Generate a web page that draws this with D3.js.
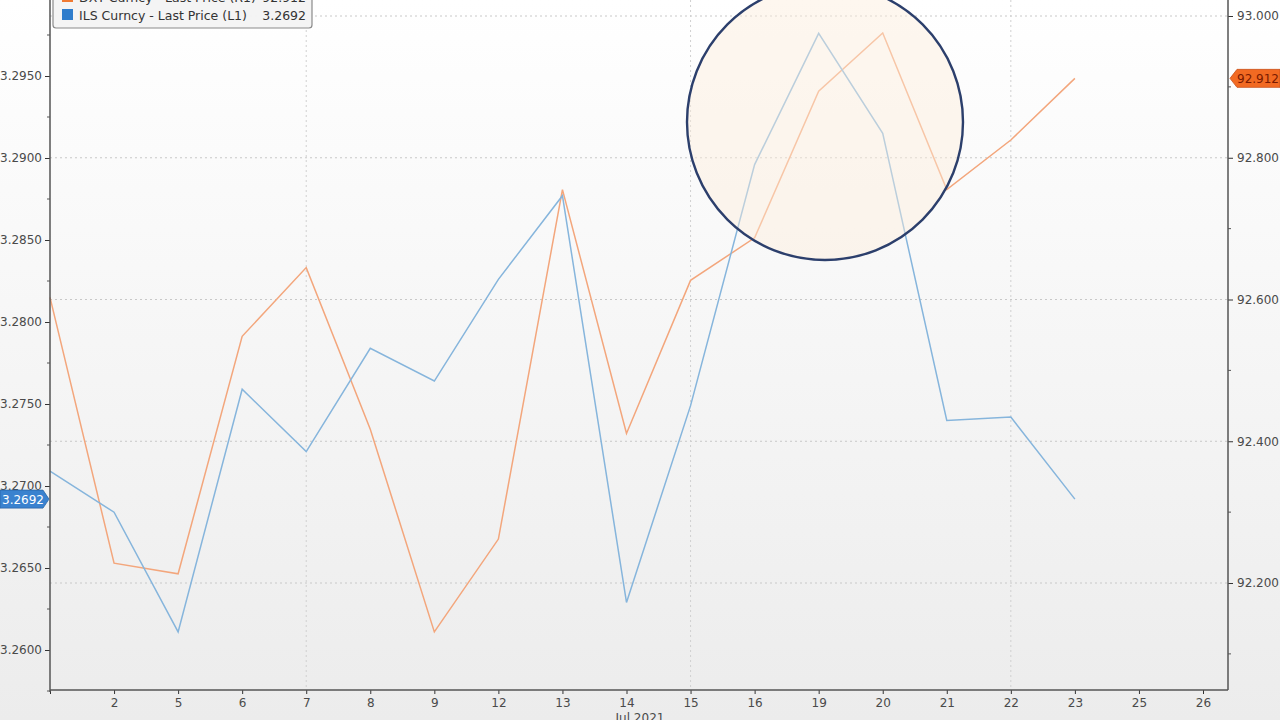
<!DOCTYPE html>
<html>
<head>
<meta charset="utf-8">
<script src="https://cdn.jsdelivr.net/npm/d3@7"></script>
<style>
  html, body { margin: 0; padding: 0; background: #fff; }
  svg { display: block; }
  text { font-family: "DejaVu Sans", Verdana, sans-serif; }
</style>
</head>
<body>
<svg id="chart" width="1280" height="720"></svg>
<script>
// ---- data ----
const days = ["1","2","5","6","7","8","9","12","13","14","15","16","19","20","21","22","23","25","26"];
const dataDays = ["1","2","5","6","7","8","9","12","13","14","15","16","19","20","21","22","23"];
const ilsValues = [3.2709, 3.2684, 3.2611, 3.2759, 3.2721, 3.2784, 3.2764, 3.2826, 3.2877, 3.2629, 3.2749, 3.2896, 3.2976, 3.2915, 3.2740, 3.2742, 3.2692];
const dxyValues = [92.603, 92.228, 92.213, 92.548, 92.645, 92.417, 92.131, 92.262, 92.755, 92.411, 92.627, 92.687, 92.894, 92.976, 92.755, 92.825, 92.912];
const leftTicks = [3.2600, 3.2650, 3.2700, 3.2750, 3.2800, 3.2850, 3.2900, 3.2950];
const rightTicks = [92.200, 92.400, 92.600, 92.800, 93.000];
const gridDays = ["7", "15", "22"];
const legendItems = [
  { name: "DXY Curncy - Last Price (R1)", value: "92.912", color: "#f07a32" },
  { name: "ILS Curncy - Last Price (L1)", value: "3.2692", color: "#2f7dcc" }
];
const monthLabel = "Jul 2021";
const lastILS = "3.2692";
const lastDXY = "92.912";

// ---- layout ----
const W = 1280, H = 720;
const pLeft = 50, pRight = 1228, pTop = 0, pBottom = 690;

const svg = d3.select("#chart");
const defs = svg.append("defs");
const grad = defs.append("linearGradient").attr("id", "bg").attr("x1", 0).attr("y1", 0).attr("x2", 0).attr("y2", 1);
grad.append("stop").attr("offset", "0%").attr("stop-color", "#ffffff");
grad.append("stop").attr("offset", "100%").attr("stop-color", "#ececec");
svg.append("rect").attr("width", W).attr("height", H).attr("fill", "url(#bg)");

const x = d3.scalePoint().domain(days).range([50, 1203]);
const yL = d3.scaleLinear().domain([3.26, 3.295]).range([650, 76]);
const yR = d3.scaleLinear().domain([92.2, 93.0]).range([583, 16]);

// gridlines
const grid = svg.append("g");
grid.selectAll("line.h").data(rightTicks).join("line").attr("class", "h")
  .attr("x1", pLeft).attr("x2", pRight)
  .attr("y1", d => yR(d)).attr("y2", d => yR(d))
  .attr("stroke", "#c8c8c8").attr("stroke-width", 1).attr("stroke-dasharray", "2,3");
grid.selectAll("line.v").data(gridDays).join("line").attr("class", "v")
  .attr("x1", d => x(d)).attr("x2", d => x(d))
  .attr("y1", pTop).attr("y2", pBottom)
  .attr("stroke", "#d0d0d0").attr("stroke-width", 1).attr("stroke-dasharray", "2,3");

// lines
const lineL = d3.line().x((d, i) => x(dataDays[i])).y(d => yL(d));
const lineR = d3.line().x((d, i) => x(dataDays[i])).y(d => yR(d));
svg.append("path").datum(dxyValues).attr("d", lineR)
  .attr("fill", "none").attr("stroke", "#f3a67c").attr("stroke-width", 1.5);
svg.append("path").datum(ilsValues).attr("d", lineL)
  .attr("fill", "none").attr("stroke", "#86b5dc").attr("stroke-width", 1.5);

// highlight circle
svg.append("circle").attr("cx", 825).attr("cy", 122).attr("r", 138)
  .attr("fill", "#fdeedc").attr("fill-opacity", 0.45)
  .attr("stroke", "#2c3f6c").attr("stroke-width", 2.4);

// axes
const axisColor = "#555";
const textColor = "#4a4a4a";
const gL = svg.append("g").attr("transform", `translate(${pLeft},0)`);
gL.call(d3.axisLeft(yL).tickValues(leftTicks).tickFormat(d3.format(".4f")).tickSize(5).tickPadding(3));
const minorL = d3.range(3.2575, 3.2976, 0.005);
gL.selectAll("line.minor").data(minorL).join("line").attr("class", "minor")
  .attr("x1", -3).attr("x2", 0).attr("y1", d => yL(d)).attr("y2", d => yL(d))
  .attr("stroke", axisColor);
const gR = svg.append("g").attr("transform", `translate(${pRight},0)`);
gR.call(d3.axisRight(yR).tickValues(rightTicks).tickFormat(d3.format(".3f")).tickSize(5).tickPadding(4));
const minorR = d3.range(92.1, 93.0, 0.2);
gR.selectAll("line.minor").data(minorR).join("line").attr("class", "minor")
  .attr("x1", 0).attr("x2", 3).attr("y1", d => yR(d)).attr("y2", d => yR(d))
  .attr("stroke", axisColor);
const gB = svg.append("g").attr("transform", `translate(0,${pBottom})`);
gB.call(d3.axisBottom(x).tickFormat(d => d === "1" ? "" : d).tickSize(4).tickPadding(4));
[gL, gR, gB].forEach(g => {
  g.select(".domain").remove();
  g.selectAll(".tick line").attr("stroke", "#333");
  g.selectAll("text").attr("fill", textColor).attr("font-size", 12);
});
svg.append("line").attr("x1", pLeft).attr("x2", pLeft).attr("y1", pTop).attr("y2", pBottom + 2)
  .attr("stroke", axisColor).attr("stroke-width", 1.5);
svg.append("line").attr("x1", pRight).attr("x2", pRight).attr("y1", pTop).attr("y2", pBottom)
  .attr("stroke", axisColor).attr("stroke-width", 1.5);
svg.append("line").attr("x1", pLeft).attr("x2", pRight).attr("y1", pBottom).attr("y2", pBottom)
  .attr("stroke", axisColor).attr("stroke-width", 1.5);

svg.append("text").attr("x", 640).attr("y", 722).attr("text-anchor", "middle")
  .attr("font-size", 12).attr("fill", textColor).text(monthLabel);

// last price tags
const yb = yL(+lastILS);
svg.append("path")
  .attr("d", `M0,${yb - 9} L43,${yb - 9} L49,${yb} L43,${yb + 9} L0,${yb + 9} Z`)
  .attr("fill", "#3a82cf").attr("stroke", "#2a66a8").attr("stroke-width", 0.8);
svg.append("text").attr("x", 23).attr("y", yb + 4.5).attr("text-anchor", "middle")
  .attr("font-size", 12).attr("fill", "#ffffff").text(lastILS);

const yo = yR(+lastDXY);
svg.append("path")
  .attr("d", `M1230,${yo} L1237,${yo - 9} L1280,${yo - 9} L1280,${yo + 9} L1237,${yo + 9} Z`)
  .attr("fill", "#f26a22").attr("stroke", "#c9501a").attr("stroke-width", 0.8);
svg.append("text").attr("x", 1258).attr("y", yo + 4.5).attr("text-anchor", "middle")
  .attr("font-size", 12).attr("fill", "#7a1a00").text(lastDXY);

// legend
const lg = svg.append("g");
lg.append("rect").attr("x", 53).attr("y", -8).attr("width", 259).attr("height", 36).attr("rx", 3)
  .attr("fill", "#f3f3f3").attr("fill-opacity", 0.95).attr("stroke", "#8a8a8a").attr("stroke-width", 1.2);
legendItems.forEach((it, i) => {
  const by = 2 + i * 18;
  lg.append("rect").attr("x", 62).attr("y", by - 11).attr("width", 11).attr("height", 11).attr("fill", it.color);
  lg.append("text").attr("x", 79).attr("y", by).attr("font-size", 12.5).attr("fill", "#333").text(it.name);
  lg.append("text").attr("x", 306).attr("y", by).attr("text-anchor", "end").attr("font-size", 12.5).attr("fill", "#333").text(it.value);
});
</script>
</body>
</html>
